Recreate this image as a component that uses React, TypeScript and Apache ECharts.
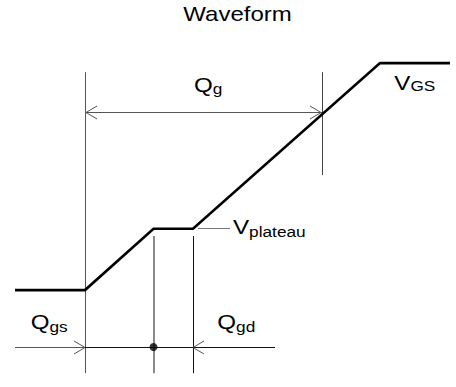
import React, { useEffect, useRef } from "react";
import * as echarts from "echarts";

// ---- Data (charge in arbitrary nC-like units, voltage in V) ----
const TITLE = "Waveform";

const waveformCharge = [-7, 0, 6.85, 10.8, 29.5, 36.5];
const waveformVoltage = [0, 0, 2.7, 2.7, 10, 10];

const qStart = 0;
const qPlateauStart = 6.85;
const qPlateauEnd = 10.8;
const qTotal = 23.7;
const vPlateau = 2.7;

// extension lines: [q1, v1, q2, v2]
const extensionLines = [
  [qStart, 9.6, qStart, -3.66],
  [qTotal, 9.6, qTotal, 5.07],
  [qPlateauStart, 2.38, qPlateauStart, -3.66],
  [qPlateauEnd, 2.38, qPlateauEnd, -3.66],
];
// dimension / leader lines: [q1, v1, q2, v2]
const dimensionLines = [
  [qStart, 7.84, qTotal, 7.84],
  [-7, -2.51, qStart, -2.51],
  [qStart, -2.51, 19, -2.51],
  [11.3, vPlateau, 14.5, vPlateau],
];
// arrow tips: [q, v, direction]
const arrowTips = [
  [qStart + 0.1, 7.84, -1],
  [qTotal - 0.1, 7.84, 1],
  [qStart, -2.51, 1],
  [qPlateauEnd, -2.51, -1],
];
const junctionDot = [[qPlateauStart, -2.51]];

// labels
const labelMain = ["Q", "V", "Q", "Q", "V"];
const labelSub = ["g", "GS", "gs", "gd", "plateau"];
const labelCharge = [10.9, 30.93, -5.43, 13.23, 14.8];
const labelVoltage = [9.05, 9.14, -1.42, -1.42, 2.78];

// ---- Styles ----
const FONT = "'Liberation Sans', Arial, Helvetica, sans-serif";
const SCALE_X = 1.15;
const MAIN_SIZE = 21;
const SUB_SIZE = 15;
const extColors = ["#555555", "#444444", "#8a8a8a", "#111111"];
const extWidths = [1, 1, 2, 1];
const dimColors = ["#555555", "#555555", "#111111", "#777777"];
const dimWidths = [1, 1, 1.2, 1];
const subDrop = [4.2, 3.2, 4.2, 4.2, 4.6];

function crisp(v: number, w: number) {
  return w % 2 === 1 ? Math.round(v - 0.5) + 0.5 : Math.round(v);
}

function lineItem(api: any, row: number[], color: string, width: number) {
  const a = api.coord([row[0], row[1]]);
  const b = api.coord([row[2], row[3]]);
  let x1 = a[0], y1 = a[1], x2 = b[0], y2 = b[1];
  if (Math.abs(x1 - x2) < 0.01) {
    x1 = x2 = crisp(x1, width);
  }
  if (Math.abs(y1 - y2) < 0.01) {
    y1 = y2 = crisp(y1, Math.round(width));
  }
  return {
    type: "line",
    shape: { x1, y1, x2, y2 },
    style: { stroke: color, lineWidth: width, fill: null },
  };
}

export default function App() {
  const ref = useRef<HTMLDivElement>(null);

  useEffect(() => {
    if (!ref.current) return;
    const chart = echarts.init(ref.current, undefined, { renderer: "svg" });

    const option: any = {
      animation: false,
      backgroundColor: "#ffffff",
      grid: { left: 0, right: 0, top: 0, bottom: 0, containLabel: false },
      xAxis: { type: "value", min: -8.5, max: 37.1, show: false },
      yAxis: { type: "value", min: -4.27, max: 12.78, show: false },
      graphic: [
        {
          type: "text",
          x: 237.5,
          y: 14.6,
          scaleX: 1.2,
          style: {
            text: TITLE,
            fontSize: 20,
            fontFamily: FONT,
            fill: "#000000",
            align: "center",
            verticalAlign: "middle",
          },
        },
      ],
      series: [
        {
          name: "extensions",
          type: "custom",
          silent: true,
          clip: false,
          data: extensionLines,
          renderItem: (params: any, api: any) => {
            const i = params.dataIndex;
            return lineItem(api, extensionLines[i], extColors[i], extWidths[i]);
          },
          z: 1,
        },
        {
          name: "dimensions",
          type: "custom",
          silent: true,
          clip: false,
          data: dimensionLines,
          renderItem: (params: any, api: any) => {
            const i = params.dataIndex;
            return lineItem(api, dimensionLines[i], dimColors[i], dimWidths[i]);
          },
          z: 2,
        },
        {
          name: "arrows",
          type: "custom",
          silent: true,
          clip: false,
          data: arrowTips,
          renderItem: (params: any, api: any) => {
            const i = params.dataIndex;
            const row = arrowTips[i];
            const p = api.coord([row[0], row[1]]);
            const dir = row[2];
            const len = 11;
            const hw = 6.5;
            const y = crisp(p[1], 1);
            return {
              type: "polyline",
              shape: {
                points: [
                  [p[0] - dir * len, y - hw],
                  [p[0], y],
                  [p[0] - dir * len, y + hw],
                ],
              },
              style: { stroke: "#555555", lineWidth: 1, fill: null },
            };
          },
          z: 3,
        },
        {
          name: "VGS",
          type: "line",
          data: waveformCharge.map((q, i) => [q, waveformVoltage[i]]),
          symbol: "none",
          silent: true,
          lineStyle: { color: "#000000", width: 2.6, join: "miter" },
          z: 4,
        },
        {
          name: "junction",
          type: "scatter",
          data: junctionDot,
          symbol: "circle",
          symbolSize: 8,
          silent: true,
          itemStyle: { color: "#000000" },
          z: 5,
        },
        {
          name: "labels",
          type: "custom",
          silent: true,
          clip: false,
          data: labelCharge.map((q, i) => [q, labelVoltage[i]]),
          renderItem: (params: any, api: any) => {
            const i = params.dataIndex;
            const p = api.coord([labelCharge[i], labelVoltage[i]]);
            const adv = labelMain[i] === "Q" ? 0.778 : 0.667;
            const mainW = adv * MAIN_SIZE * SCALE_X;
            return {
              type: "group",
              children: [
                {
                  type: "text",
                  x: p[0],
                  y: p[1],
                  scaleX: SCALE_X,
                  style: {
                    text: labelMain[i],
                    fontSize: MAIN_SIZE,
                    fontFamily: FONT,
                    fill: "#000000",
                    align: "left",
                    verticalAlign: "middle",
                  },
                },
                {
                  type: "text",
                  x: p[0] + mainW,
                  y: p[1] + subDrop[i],
                  scaleX: SCALE_X,
                  style: {
                    text: labelSub[i],
                    fontSize: SUB_SIZE,
                    fontFamily: FONT,
                    fill: "#000000",
                    align: "left",
                    verticalAlign: "middle",
                  },
                },
              ],
            };
          },
          z: 6,
        },
      ],
    };

    chart.setOption(option);
    return () => chart.dispose();
  }, []);

  return (
    <div
      ref={ref}
      style={{ position: "absolute", left: 0, top: 0, width: 456, height: 387 }}
    />
  );
}
